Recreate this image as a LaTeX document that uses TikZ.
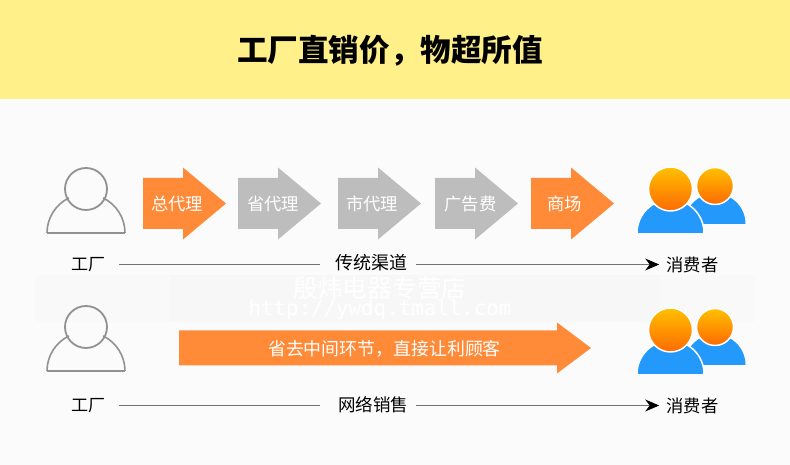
\documentclass[tikz,border=0pt]{standalone}
\usepackage{fontspec}
\setmainfont{Noto Sans CJK SC}
\setmonofont{DejaVu Sans Mono}
\usetikzlibrary{arrows.meta,calc}
\definecolor{bannercolor}{HTML}{FFF08A}
\definecolor{pagecolor}{HTML}{FBFBFB}
\definecolor{markcolor}{HTML}{F7F7F7}
\definecolor{arroworange}{HTML}{FF8A38}
\definecolor{arrowgray}{HTML}{BDBDBD}
\definecolor{outlinegray}{HTML}{929292}
\definecolor{bodyblue}{HTML}{2299FB}
\definecolor{headtop}{HTML}{FFC000}
\definecolor{headbottom}{HTML}{FF6A00}
\tikzset{
    every picture/.style={line width=0.75pt},
    caption/.style={font=\fontsize{17.3}{17}\selectfont, text=black, inner ysep=0pt},
    arrowtext/.style={font=\fontsize{17.3}{17}\selectfont, text=white, inner sep=0pt},
    flowline/.style={draw=black!55, line width=1pt},
    facehead/.style={top color=headtop, bottom color=headbottom, draw=white, line width=1.5pt},
    factory/.pic={
        \draw[outlinegray, line width=1.6pt, line join=round] (-39,0) arc (180:116:39);
        \draw[outlinegray, line width=1.6pt] (39,0) arc (0:64:39);
        \draw[outlinegray, line width=1.6pt] (-39,0) -- (39,0);
        \draw[outlinegray, line width=1.8pt] (0,44) circle (21);
    },
    consumers/.pic={
        % 后面的人
        \fill[bodyblue] (14,9) arc (180:0:30.5) -- cycle;
        \shade[facehead] (44.5,47) circle (18.5);
        % 前面的人
        \fill[bodyblue, draw=white, line width=1.5pt] (-33.5,-1) -- (-33.5,0) arc (180:0:33.5) -- (33.5,-1) -- cycle;
        \fill[pagecolor] (-35,-3) rectangle (35,0);
        \shade[facehead] (0,44) circle (22);
    }
}
% 箭头: x, 箭身宽, 箭头宽, 中线y, 箭身半高, 箭头半高, 颜色
\newcommand{\bigarrow}[7]{
    \fill[#7] (#1,#4+#5) -- ++(#2,0) -- (#1+#2,#4+#6) -- (#1+#2+#3,#4) -- (#1+#2,#4-#6) -- (#1+#2,#4-#5) -- (#1,#4-#5) -- cycle;
}
\begin{document}
\begin{tikzpicture}[x=1pt,y=1pt]
    \useasboundingbox (0,0) rectangle (790,465);
    % 背景
    \fill[pagecolor] (0,0) rectangle (790,465);
    \fill[bannercolor] (0,366) rectangle (790,465);
    \node[font=\bfseries\fontsize{30.6}{30}\selectfont, inner sep=0pt] (title) at (390,414.5) {工厂直销价，物超所值};

    % 水印
    \fill[markcolor!60!pagecolor] (35,143) rectangle (755,190);
    \fill[markcolor] (170,143) rectangle (660,190);
    \node[font=\fontsize{24.7}{24}\selectfont, text=white, inner sep=0pt] (markname) at (380,177) {殷炜电器专营店};
    \node[font=\ttfamily\fontsize{20.8}{21}\selectfont, text=white, inner sep=0pt] (markurl) at (380,155) {http://ywdq.tmall.com};

    % 传统渠道
    \pic at (86,232) {factory};
    \pic at (670.5,232) {consumers};
    \bigarrow{143}{40}{43}{261.5}{25.5}{36}{arroworange}
    \bigarrow{238}{40}{43}{261.5}{25.5}{36}{arrowgray}
    \bigarrow{338}{40}{43}{261.5}{25.5}{36}{arrowgray}
    \bigarrow{435}{40}{43}{261.5}{25.5}{36}{arrowgray}
    \bigarrow{531}{40}{43}{261.5}{25.5}{36}{arroworange}
    \node[arrowtext] (zongdaili) at (177,261) {总代理};
    \node[arrowtext] (shengdaili) at (273,261) {省代理};
    \node[arrowtext] (shidaili) at (372,261) {市代理};
    \node[arrowtext] (guanggao) at (470.5,261) {广告费};
    \node[arrowtext] (shangchang) at (564.5,261) {商场};

    \node[caption, inner xsep=14pt, font=\fontsize{17}{17}\selectfont] (factoryA) at (88,200) {工厂};
    \node[caption, inner xsep=9pt, font=\fontsize{18}{18}\selectfont] (channelA) at (371,202) {传统渠道};
    \node[caption, inner xsep=7pt] (consumerA) at (692.5,200) {消费者};
    \draw[flowline] (factoryA.east |- 0,200.5) -- ([xshift=-6pt]channelA.west |- 0,200.5);
    \draw[flowline, -{Stealth[length=14pt,width=12pt,black]}] (channelA.east |- 0,200.5) -- (consumerA.west |- 0,200.5);

    % 网络销售
    \pic at (86,94) {factory};
    \pic at (670.5,91) {consumers};
    \bigarrow{179}{378}{34}{117}{17.5}{25.5}{arroworange}
    \node[arrowtext, font=\fontsize{17.9}{18}\selectfont] (saving) at (384.5,116) {省去中间环节，直接让利顾客};

    \node[caption, inner xsep=14pt, font=\fontsize{17}{17}\selectfont] (factoryB) at (88,59) {工厂};
    \node[caption, inner xsep=8pt, font=\fontsize{17.5}{18}\selectfont] (channelB) at (373,60) {网络销售};
    \node[caption, inner xsep=7pt] (consumerB) at (692.5,59) {消费者};
    \draw[flowline] (factoryB.east |- 0,59.5) -- ([xshift=-10pt]channelB.west |- 0,59.5);
    \draw[flowline, -{Stealth[length=14pt,width=12pt,black]}] (channelB.east |- 0,59.5) -- (consumerB.west |- 0,59.5);
\end{tikzpicture}
\end{document}
